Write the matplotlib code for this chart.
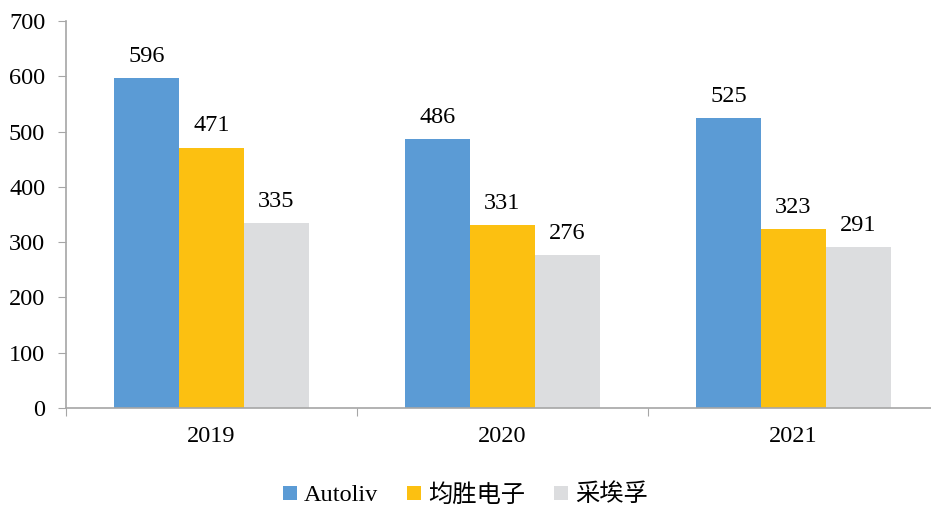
import numpy as np
import matplotlib.pyplot as plt
from matplotlib.ticker import FixedLocator

years = ['2019', '2020', '2021']
series = ['Autoliv', '均胜电子', '采埃孚']
autoliv = [596, 486, 525]
joyson = [471, 331, 323]
zf = [335, 276, 291]
colors = ['#5B9BD5', '#FCC011', '#DCDDDF']

plt.rcParams['font.family'] = ['Liberation Serif', 'Noto Sans CJK SC']
plt.rcParams['font.size'] = 17.5

fig = plt.figure(figsize=(9.31, 5.09), dpi=100)
ax = fig.add_axes([66 / 931, 1 - 408 / 509, 873 / 931, 387 / 509])

x = np.arange(len(years))
width = 0.67 / 3
for i, (name, vals) in enumerate(zip(series, [autoliv, joyson, zf])):
    bars = ax.bar(x + (i - 1) * width, vals, width, color=colors[i], label=name)
    for b, v in zip(bars, vals):
        ax.annotate(str(v), (b.get_x() + b.get_width() / 2, v),
                    xytext=(0, 8), textcoords='offset points',
                    ha='center', va='bottom')

ax.set_xlim(-0.5, 2.5)
ax.set_ylim(0, 700)
ax.set_yticks(range(0, 701, 100))

ax.xaxis.set_major_locator(FixedLocator([-0.5, 0.5, 1.5, 2.5]))
ax.xaxis.set_major_formatter(plt.NullFormatter())
ax.xaxis.set_minor_locator(FixedLocator(x))
ax.set_xticklabels(years, minor=True)
ax.tick_params(axis='x', which='minor', length=0, pad=13)
ax.tick_params(axis='x', which='major', length=6, color='#A6A6A6', direction='out')
ax.tick_params(axis='y', length=6, color='#A6A6A6', direction='out', pad=9)

for s in ['top', 'right']:
    ax.spines[s].set_visible(False)
for s in ['left', 'bottom']:
    ax.spines[s].set_color('#A6A6A6')
    ax.spines[s].set_linewidth(1.2)

fig.legend(loc='center', bbox_to_anchor=(0.5, 1 - 495 / 509), ncol=3, frameon=False,
           handlelength=0.55, handleheight=0.55, handletextpad=0.3, columnspacing=1.2)

fig.savefig('out.png', dpi=100)
